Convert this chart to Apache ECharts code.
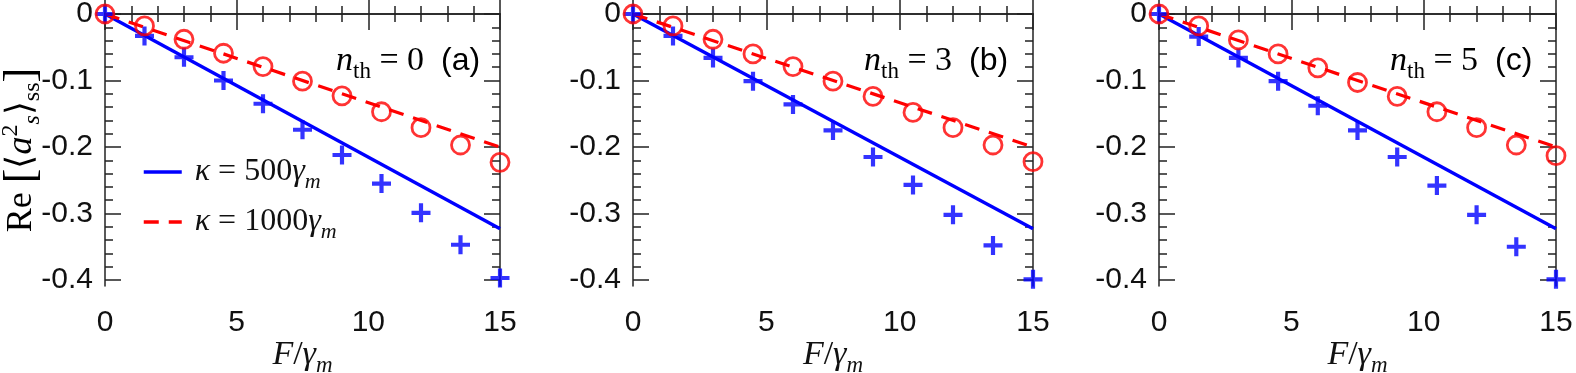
<!DOCTYPE html>
<html>
<head>
<meta charset="utf-8">
<script src="https://cdn.jsdelivr.net/npm/echarts@6/dist/echarts.min.js"></script>
<style>
 html, body { margin: 0; padding: 0; background: #fff; }
 #main { width: 1576px; height: 373px; }
</style>
</head>
<body>
<div id="main"></div>
<script>
// F / gamma_m sample points
var xs = [0, 1.5, 3, 4.5, 6, 7.5, 9, 10.5, 12, 13.5, 15];

// crosses: kappa = 500 gamma_m (numerics), one per panel
var crossA = [0, -0.033, -0.065, -0.1, -0.135, -0.174, -0.212, -0.255, -0.299, -0.347, -0.397];
var crossB = [0, -0.033, -0.066, -0.101, -0.136, -0.175, -0.215, -0.257, -0.302, -0.348, -0.399];
var crossC = [0, -0.034, -0.066, -0.101, -0.138, -0.175, -0.215, -0.258, -0.302, -0.35, -0.399];

// circles: kappa = 1000 gamma_m
var circA = [0, -0.018, -0.038, -0.059, -0.079, -0.101, -0.123, -0.147, -0.171, -0.197, -0.223];
var circB = [0, -0.018, -0.038, -0.06, -0.079, -0.101, -0.124, -0.148, -0.171, -0.197, -0.222];
var circC = [0, -0.018, -0.039, -0.06, -0.081, -0.103, -0.124, -0.147, -0.171, -0.197, -0.213];

// analytic lines (start, end)
var lineX = [0, 15];
var line500 = [0, -0.323];
var line1000 = [0, -0.2];

var yTicks = [0, -0.1, -0.2, -0.3, -0.4];
var yMinor = [0, -0.02, -0.04, -0.06, -0.08, -0.1, -0.12, -0.14, -0.16, -0.18, -0.2,
  -0.22, -0.24, -0.26, -0.28, -0.3, -0.32, -0.34, -0.36, -0.38, -0.4];
var nth = ['0', '3', '5'];
var tags = ['(a)', '(b)', '(c)'];

var panels = [
 {left: 105, width: 395, cross: crossA, circ: circA},
 {left: 633, width: 400, cross: crossB, circ: circB},
 {left: 1159, width: 397, cross: crossC, circ: circC}
];

var BLUE = '#0000ff', RED = '#ff0000', INK = '#222';
var serif = 'Liberation Serif';
var sans = 'Liberation Sans';

function richSet(size) {
 var small = Math.round(size * 0.68);
 return {
  i: {fontFamily: serif, fontStyle: 'italic', fontSize: size, color: '#111', lineHeight: size + 10},
  n: {fontFamily: serif, fontSize: size, color: '#111', lineHeight: size + 10},
  s: {fontFamily: sans, fontSize: size - 2, color: '#111', lineHeight: size + 10},
  sub: {fontFamily: serif, fontSize: small, color: '#111', lineHeight: small, verticalAlign: 'bottom'},
  subi: {fontFamily: serif, fontStyle: 'italic', fontSize: small, color: '#111', lineHeight: small, verticalAlign: 'bottom'},
  sup: {fontFamily: serif, fontSize: small, color: '#111', lineHeight: small, verticalAlign: 'top'},
  big: {fontFamily: serif, fontSize: size + 8, color: '#111', lineHeight: size + 10}
 };
}
var richNote = richSet(34);
var richLeg = richSet(32);
var richX = richSet(34);
var richY = richSet(36);

function pairs(a, b) {
 var out = [];
 for (var k = 0; k < a.length; k++) out.push([a[k], b[k]]);
 return out;
}

var plus = 'path://M-0.11,-0.5H0.11V-0.11H0.5V0.11H0.11V0.5H-0.11V0.11H-0.5V-0.11H-0.11Z';

var grids = [], xAxes = [], yAxes = [], series = [], graphics = [];

panels.forEach(function (p, i) {
 grids.push({left: p.left, width: p.width, top: 14, height: 272, outerBoundsMode: 'none'});

 var xBase = {
  type: 'value', gridIndex: i, min: 0, max: 15, interval: 5,
  axisLine: {lineStyle: {color: INK, width: 1.5}},
  axisTick: {inside: true, length: 16, lineStyle: {color: INK, width: 1.5}},
  minorTick: {show: true, splitNumber: 5, length: 8, lineStyle: {color: INK, width: 1.5}},
  splitLine: {show: false}
 };
 xAxes.push(Object.assign({}, xBase, {
  position: 'bottom',
  axisLabel: {fontFamily: sans, fontSize: 30, color: '#111', margin: 22},
  name: '{i|F}{n|/}{i|γ}{subi|m}', nameLocation: 'middle', nameGap: 47,
  nameMoveOverlap: false,
  nameTextStyle: {rich: richX}
 }));
 xAxes.push(Object.assign({}, xBase, {position: 'top', axisLabel: {show: false}}));

 ['left', 'right'].forEach(function (side) {
  yAxes.push({
   type: 'value', gridIndex: i, min: -0.409, max: 0, position: side,
   axisLine: {lineStyle: {color: INK, width: 1.5}},
   axisTick: {inside: true, length: 16, customValues: yTicks, lineStyle: {color: INK, width: 1.5}},
   axisLabel: {show: side === 'left', customValues: yTicks, fontFamily: sans, fontSize: 30, color: '#111', margin: 12},
   splitLine: {show: false}
  });
  yAxes.push({
   type: 'value', gridIndex: i, min: -0.409, max: 0, position: side,
   axisLine: {show: false},
   axisTick: {inside: true, length: 8, customValues: yMinor, lineStyle: {color: INK, width: 1.5}},
   axisLabel: {show: false},
   splitLine: {show: false}
  });
 });

 var xi = i * 2, yi = i * 4;
 series.push({
  name: 'k500', type: 'line', xAxisIndex: xi, yAxisIndex: yi, data: pairs(lineX, line500),
  symbol: 'none', lineStyle: {color: BLUE, width: 3.4}, itemStyle: {color: BLUE}, z: 3
 });
 series.push({
  name: 'k1000', type: 'line', xAxisIndex: xi, yAxisIndex: yi, data: pairs(lineX, line1000),
  symbol: 'none', lineStyle: {color: RED, width: 3.2, type: [15, 10]}, itemStyle: {color: RED}, z: 3
 });
 series.push({
  name: 'cross' + i, type: 'scatter', xAxisIndex: xi, yAxisIndex: yi, data: pairs(xs, p.cross),
  symbol: plus, symbolSize: 19, itemStyle: {color: BLUE}, clip: false, z: 4
 });
 series.push({
  name: 'circ' + i, type: 'scatter', xAxisIndex: xi, yAxisIndex: yi, data: pairs(xs, p.circ),
  symbol: 'circle', symbolSize: 18, clip: false, z: 4,
  itemStyle: {color: 'rgba(0,0,0,0)', borderColor: RED, borderWidth: 2.8}
 });

 graphics.push({
  type: 'text', x: p.left + 231, y: 61,
  style: {
   text: '{i|n}{sub|th}{n| = ' + nth[i] + '  }{s|' + tags[i] + '}',
   rich: richNote, align: 'left', verticalAlign: 'middle'
  }
 });
});

// y axis title, rotated
graphics.push({
 type: 'text', x: 22, y: 150, rotation: Math.PI / 2,
 style: {
  text: '{n|Re }{big|[}{n|⟨}{i|a}{sup|2}{subi|s}{n|⟩}{sub|ss}{big|]}',
  rich: richY, align: 'center', verticalAlign: 'middle'
 }
});

var legendNames = {k500: '500', k1000: '1000'};

var option = {
 animation: false,
 backgroundColor: '#fff',
 grid: grids,
 xAxis: xAxes,
 yAxis: yAxes,
 legend: {
  data: ['k500', 'k1000'],
  orient: 'vertical', left: 137, top: 151,
  itemWidth: 38, itemHeight: 14, itemGap: 13,
  selectedMode: false,
  itemStyle: {opacity: 0},
  lineStyle: {width: 3.5},
  formatter: function (name) {
   return '{i|κ}{n| = ' + legendNames[name] + '}{i|γ}{subi|m}';
  },
  textStyle: {rich: richLeg, padding: [0, 0, 0, 8]}
 },
 graphic: graphics,
 series: series
};

var chart = echarts.init(document.getElementById('main'));
chart.setOption(option);
</script>
</body>
</html>
